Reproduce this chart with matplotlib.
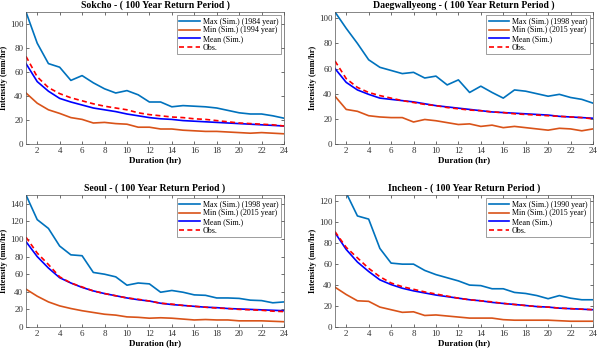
import matplotlib
matplotlib.use("Agg")
import matplotlib.pyplot as plt
import numpy as np

plt.rcParams['font.family'] = ['Liberation Serif', 'DejaVu Serif']

duration = list(range(1, 25))

sokcho_max = [110, 84, 67, 64, 53, 57, 51, 46, 42.5, 44.5, 41, 35, 35, 31, 32, 31.5, 31, 30, 28, 26, 25, 25, 23.5, 21.5]
sokcho_min = [42.5, 34, 28.5, 25.5, 22, 20.5, 17.5, 18, 17, 16.5, 14, 14, 12.5, 12.5, 11.5, 11, 10.5, 10.5, 10, 9.5, 9, 9.5, 9, 8.5]
sokcho_mean = [67, 52, 44, 38, 35, 32.5, 30, 28.5, 27, 25, 23.5, 22, 21, 20.5, 19.5, 19, 18.5, 18, 17.5, 17, 16.5, 16, 15.5, 15]
sokcho_obs = [73, 56, 47, 42, 38.5, 36, 33.5, 31.5, 30, 28.5, 26, 24.5, 23.5, 22.5, 22, 21, 20.5, 19.5, 18.5, 17.5, 17, 16.5, 16, 15]

dae_max = [105, 92, 80, 67, 61, 58.5, 56, 57, 52.5, 54, 47, 51, 41, 46, 41, 36.5, 43, 42, 40, 38, 39.5, 37, 35.5, 32.5]
dae_min = [38, 27.5, 26, 22.5, 21.5, 21, 21, 17.5, 19.5, 18.5, 17, 15.5, 16, 14, 15, 13, 14, 13, 12, 11, 12.5, 12, 10.5, 12]
dae_mean = [60, 49, 43, 39.5, 36.5, 35.5, 34.5, 33.5, 32, 30.5, 29.5, 28.5, 27.5, 26.5, 25.5, 25, 24.5, 24, 23.5, 23, 22, 21.5, 21, 20.5]
dae_obs = [66, 52, 45, 41, 38.5, 36.5, 34.5, 33, 31.5, 30.5, 29, 28, 27, 26.5, 25.5, 25, 24, 23.5, 23, 22.5, 22, 21.5, 21, 20]

seoul_max = [150, 122, 112, 92, 82, 81, 62, 60, 57, 47.5, 50, 49, 39.5, 41.5, 39.5, 36.5, 36, 33, 33, 32.5, 30.5, 30, 27.5, 28.5]
seoul_min = [43, 35, 28.5, 24, 21, 18.5, 16.5, 14.5, 13.5, 11.5, 11, 10, 10.5, 10, 9, 8, 8.5, 8, 8, 7, 7, 7, 6.5, 6]
seoul_mean = [97, 80, 67, 56, 50, 45, 41, 38, 35.5, 33, 31, 29.5, 27, 25.5, 24.5, 23.5, 22.5, 22, 21, 20.5, 20, 19.5, 19, 18.5]
seoul_obs = [102, 84, 71, 57, 50, 45.5, 41, 38, 35.5, 33, 31.5, 29.5, 27, 26, 24.5, 23.5, 22.5, 21.5, 21, 20, 19.5, 19, 18, 17.5]

inch_max = [160, 128, 106, 103, 75, 61, 60, 60, 54, 50, 47, 44, 40, 39.5, 36.5, 36.5, 33, 32, 30, 27, 30, 27.5, 26, 26]
inch_min = [38, 31, 25, 24.5, 19, 16.5, 14, 14.5, 11, 11.5, 10.5, 9.5, 8.5, 8.5, 8.5, 7, 6.5, 6.5, 6.5, 6.5, 6, 5.5, 5.5, 5.5]
inch_mean = [90, 74, 62, 53, 45, 40.5, 37, 34.5, 32.5, 30.5, 29, 27.5, 26, 25, 23.5, 22.5, 21.5, 20.5, 19.5, 19, 18, 17.5, 17, 16.5]
inch_obs = [91, 76, 66, 56, 48, 42, 38.5, 36, 33.5, 31.5, 29.5, 27.5, 26, 25, 24, 22.5, 21.5, 20.5, 19.5, 19, 18, 17.5, 17, 16.5]

panels = [
    ("Sokcho", sokcho_max, sokcho_min, sokcho_mean, sokcho_obs, "1984", "1994", 110, 20),
    ("Daegwallyeong", dae_max, dae_min, dae_mean, dae_obs, "1998", "2015", 105, 20),
    ("Seoul", seoul_max, seoul_min, seoul_mean, seoul_obs, "1998", "2015", 150, 20),
    ("Incheon", inch_max, inch_min, inch_mean, inch_obs, "1990", "2015", 126, 20),
]

positions = [
    [26/600, 1-144/351, 258/600, 132/351],
    [335/600, 1-144/351, 258/600, 132/351],
    [26/600, 1-327/351, 258/600, 132/351],
    [335/600, 1-327/351, 258/600, 132/351],
]

fig = plt.figure(figsize=(6.0, 3.51), dpi=100)
for (name, mx, mn, me, ob, ymax_yr, ymin_yr, ytop, ystep), pos in zip(panels, positions):
    ax = fig.add_axes(pos)
    ax.plot(duration, mx, color='#0072BD', lw=1.2, label=f'Max (Sim.) ({ymax_yr} year)')
    ax.plot(duration, mn, color='#D95319', lw=1.2, label=f'Min (Sim.) ({ymin_yr} year)')
    ax.plot(duration, me, color='blue', lw=1.2, label='Mean (Sim.)')
    ax.plot(duration, ob, color='red', lw=1.2, ls=(0, (3, 2)), label='Obs.')
    ax.set_xlim(1, 24)
    ax.set_ylim(0, ytop)
    ax.set_xticks(range(2, 25, 2))
    ax.set_yticks(np.arange(0, ytop + 0.1, ystep))
    ax.tick_params(direction='in', length=2, width=0.5, labelsize=6.5, colors='#333333',
                   top=True, right=True, pad=2)
    for s in ax.spines.values():
        s.set_linewidth(0.5)
        s.set_color('#555555')
    ax.set_title(f'{name} - ( 100 Year Return Period )', fontsize=7, fontweight='bold', pad=3)
    ax.set_xlabel('Duration (hr)', fontsize=6.5, fontweight='bold', labelpad=1)
    ax.set_ylabel('Intensity (mm/hr)', fontsize=6, fontweight='bold', labelpad=1)
    leg = ax.legend(loc='upper right', fontsize=5.8, frameon=True, fancybox=False,
                    borderpad=0.3, labelspacing=0.1, handlelength=2.5, handletextpad=0.4,
                    borderaxespad=0.4)
    leg.get_frame().set_edgecolor('#555555')
    leg.get_frame().set_linewidth(0.5)

fig.savefig('out.png', dpi=100)
